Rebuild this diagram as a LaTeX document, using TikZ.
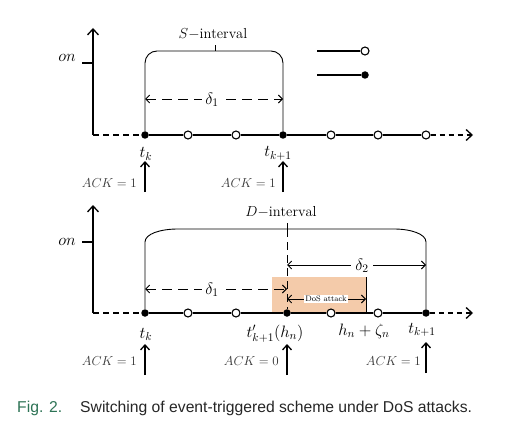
\RequirePackage{fix-cm}
\documentclass[tikz,border=0pt]{standalone}
\usepackage{fontspec}
\newfontfamily\capfont{Liberation Sans}
\usetikzlibrary{arrows.meta}
\definecolor{dosfill}{RGB}{244,203,170}
\definecolor{figgreen}{RGB}{45,115,85}
\begin{document}
\begin{tikzpicture}[x=1pt,y=-1pt,
  axis/.style={line width=1.3pt},
  tipbig/.style={-{Straight Barb[length=6pt,width=11pt]}},
  tipsm/.style={{Straight Barb[length=4pt,width=8pt]}-{Straight Barb[length=4pt,width=8pt]}},
  ival/.style={line width=0.9pt},
  fdot/.style={circle,fill=black,inner sep=0pt,minimum size=7.5pt},
  odot/.style={circle,draw=black,fill=white,line width=1.1pt,inner sep=0pt,minimum size=8pt},
  mlab/.style={inner sep=0pt,font=\fontsize{16.5}{18}\selectfont},
  ilab/.style={inner sep=0pt,font=\fontsize{14.5}{17}\selectfont},
  acklab/.style={inner sep=0pt,anchor=base east,font=\fontsize{13}{15}\selectfont,text=black!80},
  ackarr/.style={line width=1.3pt,-{Straight Barb[length=5pt,width=9pt]}},
  dsh/.style={dash pattern=on 6pt off 4pt},
  dshlong/.style={dash pattern=on 10pt off 6pt},
]
\useasboundingbox (0,0) rectangle (510,438);

% ================= TOP PANEL =================
\coordinate (O1) at (93,135);
\coordinate (Y1) at (93,28);
\coordinate (E1) at (473,135);
\node[fdot] (tk) at (145,135) {};
\node[odot] (a1) at (188,135) {};
\node[odot] (a2) at (236,135) {};
\node[fdot] (tk1) at (283,135) {};
\node[odot] (a3) at (331,135) {};
\node[odot] (a4) at (378,135) {};
\node[odot] (a5) at (426,135) {};

\draw[axis,tipbig] (O1) -- (Y1);
\draw[axis] (82,63) -- (93,63);
\node[mlab,anchor=base east] (on1) at (76,62) {$on$};
\draw[axis,dsh] (O1) -- (tk);
\draw[axis] (tk) -- (a1);
\draw[axis] (a1) -- (a2);
\draw[axis] (a2) -- (tk1);
\draw[axis] (tk1) -- (a3);
\draw[axis] (a3) -- (a4);
\draw[axis] (a4) -- (a5);
\draw[axis,dash pattern=on 5pt off 4pt,tipbig] (a5) -- (E1);

% S-interval
\draw[ival,rounded corners=12pt] (tk) -- (145,51) -- (283,51) -- (tk1);
\draw[ival] (215,51) -- (215,45);
\node[ilab] (sint) at (213,34) {$S{-}\mathrm{interval}$};

% delta 1
\draw[ival,dshlong,tipsm] (145,99) -- (283,99);
\node[mlab,fill=white,inner xsep=3pt] (d1) at (212,100) {$\delta_1$};

% legend
\node[odot] (lo) at (365,51) {};
\node[fdot] (lf) at (365,75) {};
\coordinate (lo0) at (317,51);
\coordinate (lf0) at (317,75);
\draw[line width=1.1pt] (lo0) -- (lo);
\draw[line width=1.1pt] (lf0) -- (lf);

% labels
\node[mlab,anchor=base] (ltk) at (146,158) {$t_k$};
\node[mlab,anchor=base] (ltk1) at (278,157) {$t_{k+1}$};
\coordinate (ack1s) at (145,192);
\coordinate (ack1e) at (145,161);
\coordinate (ack2s) at (283,192);
\coordinate (ack2e) at (283,161);
\draw[ackarr] (ack1s) -- (ack1e);
\draw[ackarr] (ack2s) -- (ack2e);
\node[acklab] (ackt1) at (137,187) {$ACK=1$};
\node[acklab] (ackt2) at (276,187) {$ACK=1$};

% ================= BOTTOM PANEL =================
\fill[dosfill] (272,277) rectangle (366,313);

\coordinate (O2) at (93,313);
\coordinate (Y2) at (93,205);
\coordinate (E2) at (473,313);
\node[fdot] (bk) at (145,313) {};
\node[odot] (b1) at (188,313) {};
\node[odot] (b2) at (236,313) {};
\node[fdot] (bp) at (287,313) {};
\node[odot] (b3) at (331,313) {};
\node[odot] (b4) at (378,313) {};
\node[fdot] (bk1) at (426,313) {};

\draw[axis,tipbig] (O2) -- (Y2);
\draw[axis] (82,242) -- (93,242);
\node[mlab,anchor=base east] (on2) at (76,245) {$on$};
\draw[axis,dsh] (O2) -- (bk);
\draw[axis] (bk) -- (b1);
\draw[axis] (b1) -- (b2);
\draw[axis] (b2) -- (bp);
\draw[axis] (bp) -- (b3);
\draw[axis] (b3) -- (b4);
\draw[axis] (b4) -- (bk1);
\draw[axis,dash pattern=on 5pt off 4pt,tipbig] (bk1) -- (E2);

% D-interval
\draw[ival] (bk) -- (145,242) .. controls (145,234) and (160,229) .. (178,229)
   -- (394,229) .. controls (411,229) and (426,234) .. (426,242) -- (bk1);
\draw[ival] (287,229) -- (287,223);
\draw[ival,dash pattern=on 8pt off 5pt] (287,229) -- (bp);
\node[ilab] (dint) at (281,212) {$D{-}\mathrm{interval}$};

% DoS end line
\draw[ival] (366,277) -- (366,313);

% delta arrows
\draw[ival,dshlong,tipsm] (145,289) -- (287,289);
\node[mlab,fill=white,inner xsep=3pt] (d1b) at (212,290) {$\delta_1$};
\draw[ival,tipsm] (287,265) -- (426,265);
\node[mlab,fill=white,inner xsep=4pt] (d2) at (362,266) {$\delta_2$};
\draw[ival,tipsm] (287,299) -- (366,299);
\node[fill=white,inner sep=1pt,font=\fontsize{8}{9}\selectfont] (dos) at (326,299) {DoS attack};

% labels
\node[mlab,anchor=base] (lbk) at (146,338) {$t_k$};
\node[mlab,anchor=base] (lbp) at (275,337) {$t'_{k+1}(h_n)$};
\node[mlab,anchor=base] (lhz) at (364,335) {$h_n+\zeta_n$};
\node[mlab,anchor=base] (lbk1) at (422,333) {$t_{k+1}$};
\coordinate (ack3s) at (145,375);
\coordinate (ack3e) at (145,344);
\coordinate (ack4s) at (287,375);
\coordinate (ack4e) at (287,344);
\coordinate (ack5s) at (426,373);
\coordinate (ack5e) at (426,342);
\draw[ackarr] (ack3s) -- (ack3e);
\draw[ackarr] (ack4s) -- (ack4e);
\draw[ackarr] (ack5s) -- (ack5e);
\node[acklab] (ackt3) at (137,365) {$ACK=1$};
\node[acklab] (ackt4) at (279,365) {$ACK=0$};
\node[acklab] (ackt5) at (421,365) {$ACK=1$};

% caption
\node[inner sep=0pt,anchor=base west,font=\capfont\fontsize{15.7}{18}\selectfont,text=figgreen] (fig) at (17,412) {Fig. 2.};
\node[inner sep=0pt,anchor=base west,font=\capfont\fontsize{15.7}{18}\selectfont,text=black!85] (cap) at (80,412) {Switching of event-triggered scheme under DoS attacks.};
\end{tikzpicture}
\end{document}
